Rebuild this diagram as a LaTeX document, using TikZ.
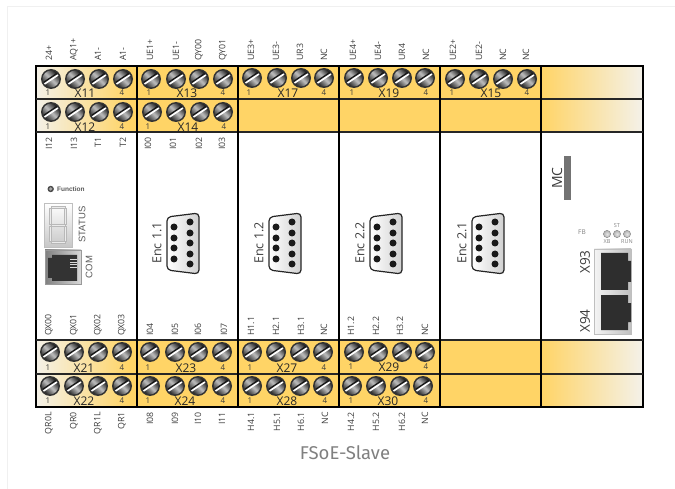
\documentclass[tikz,border=0pt]{standalone}
\usepackage{fontspec}
\setmainfont{Open Sans}
\newfontfamily\arialfont{Liberation Sans}
\newfontfamily\titlefont{Fira Sans}
\usepackage{xcolor}
\usepackage{tikz}
\definecolor{termyellow}{HTML}{FFD466}
\definecolor{termpale}{HTML}{F4F1E8}
\definecolor{textgrey}{HTML}{3C3C3C}
\tikzset{
    pinlabel/.style={rotate=90, inner sep=0pt, text=textgrey, font=\fontsize{8.8}{9}\selectfont},
    pinnum/.style={inner sep=0pt, text=textgrey, font=\fontsize{8}{9}\selectfont},
    blocklabel/.style={inner sep=0pt, text=black!85, font=\fontsize{12}{13}\selectfont},
    sidelabel/.style={rotate=90, inner sep=0pt, text=textgrey, font=\fontsize{12.5}{13}\selectfont},
    hole/.style={fill=black!90},
    led/.style={draw=black!45, line width=.5pt, inner color=black!10, outer color=black!30},
    segment/.style={draw=black!28, fill=black!8, line width=.5pt},
    screw/.pic={
        \fill[black!80] (0,0) circle (10);
        \shade[left color=black!90, right color=black!85, middle color=black!25, shading angle=-45] (0,0) circle (8.4);
        \draw[black!90, line width=1.4pt] (-7,3.2) -- (6,-5.6);
        \draw[white, line width=1.6pt] (-6.5,5) -- (7,-4);
    }
}
\begin{document}
\begin{tikzpicture}[x=1pt, y=-1pt]
    \useasboundingbox (0,0) rectangle (675,489);
    % page edge
    \draw[black!6, line width=.7pt] (7,489) -- (7,6) -- (675,6);
    % terminal rows
    \fill[termyellow] (136,66) rectangle (541,132);
    \fill[termyellow] (136,340) rectangle (541,407);
    \foreach \ya/\yb in {66/132, 340/407} {
        \shade[left color=termpale, right color=termyellow] (36,\ya) rectangle (130,\yb);
        \fill[termyellow] (130,\ya) rectangle (137,\yb);
        \shade[left color=termyellow, right color=termpale] (541,\ya) rectangle (642,\yb);
    }
    % sub-D connectors
    \foreach \dx/\enc in {0/1.1, 102/1.2, 203/2.2, 305/2.1} {
        \begin{scope}[xshift=\dx pt]
            \draw[black!85, line width=1.2pt, left color=white, right color=black!18, rounded corners=4pt]
            (167,217) -- (199,213) -- (199,274) -- (167,270) -- cycle;
            \foreach \y in {227,238,248,259} \fill[hole] (174,\y) circle (3.5);
            \foreach \y in {222,233,243,254,264} \fill[hole] (190,\y) circle (3.5);
            \node[sidelabel] at (157,243) {Enc \enc};
        \end{scope}
    }
    % frame
    \draw[black, line width=1.5pt] (36,66) rectangle (643,407);
    \foreach \y in {99,132,340,374} \draw[black!85, line width=1.3pt] (36,\y) -- (643,\y);
    \foreach \x in {137,238,339,440,541} \draw[black, line width=1.5pt] (\x,66) -- (\x,407);
    % screw blocks
    \foreach \xa/\xb/\xc/\xd/\yb/\na/\nd/\lx/\ly/\lab in {
        51/75/99/123/79/48/122/85/93/X11, 151/176/199/223/79/149/223/187/93/X13,
        252/277/301/324/78/249/324/288/93/X17, 354/378/402/425/78/352/426/389/93/X19,
        455/479/503/527/79/452/527/491/93/X15,
        51/75/99/123/112/48/122/85/127/X12, 152/176/200/223/112/148/224/188/127/X14,
        50/74/98/122/352/48/122/84/368/X21, 150/175/198/222/352/148/223/186/368/X23,
        252/276/300/323/352/250/324/287/368/X27, 354/378/402/425/352/351/426/389/367/X29,
        50/74/98/122/386/48/122/84/401/X22, 150/175/198/222/386/148/223/185/401/X24,
        252/276/300/323/386/250/325/287/401/X28, 352/376/400/423/386/351/426/388/401/X30} {
        \foreach \x in {\xa,\xb,\xc,\xd} \pic at (\x,\yb) {screw};
        \node[pinnum] at (\na,\ly) {1};
        \node[pinnum] at (\nd,\ly) {4};
        \node[blocklabel] at (\lx,\ly) {\lab};
    }
    % pin names, text ends at the block
    \foreach \x/\pin in {49/24+, 74/AQ1+, 98/A1-, 123/A1-, 150/UE1+, 176/UE1-, 199/QY00, 223/QY01,
        251/UE3+, 276/UE3-, 300/UR3, 324/NC, 353/UE4+, 378/UE4-, 402/UR4, 426/NC,
        453/UE2+, 479/UE2-, 503/NC, 526/NC}
        \node[pinlabel, anchor=west] at (\x,61) {\pin};
    \foreach \x/\pin in {49/QX00, 74/QX01, 98/QX02, 122/QX03, 150/I04, 175/I05, 198/I06, 224/I07,
        251/H1.1, 276/H2.1, 301/H3.1, 324/NC, 351/H1.2, 376/H2.2, 400/H3.2, 425/NC}
        \node[pinlabel, anchor=west] at (\x,336) {\pin};
    % pin names, text starts at the block
    \foreach \x/\pin in {49/I12, 74/I13, 98/T1, 123/T2, 148/I00, 173/I01, 199/I02, 222/I03}
        \node[pinlabel, anchor=east] at (\x,137) {\pin};
    \foreach \x/\pin in {49/QR0L, 74/QR0, 98/QR1L, 122/QR1, 150/I08, 175/I09, 198/I10, 222/I11,
        251/H4.1, 277/H5.1, 301/H6.1, 325/NC, 351/H4.2, 376/H5.2, 402/H6.2, 425/NC}
        \node[pinlabel, anchor=east] at (\x,412) {\pin};
    % function led
    \fill[black!70] (50.7,189) circle (3.2);
    \fill[black!35] (50.7,189) circle (1.8);
    \node[inner sep=0pt, anchor=west, text=black!65, font=\arialfont\bfseries\fontsize{6.5}{7}\selectfont] at (57,189.5) {Function};
    % status display
    \shade[draw=black!25, line width=.5pt, top color=white, bottom color=black!22] (44,203) rectangle (72,247);
    \foreach \xa/\ya/\xb/\yb in {51/206/65/208, 51/224/65/226, 51/241/65/243,
        49.5/208/51.5/224, 64.5/208/66.5/224, 49.5/226/51.5/241, 64.5/226/66.5/241}
        \filldraw[segment] (\xa,\ya) rectangle (\xb,\yb);
    \node[rotate=90, inner sep=0pt, text=black!65, font=\arialfont\fontsize{9.5}{10}\selectfont] at (82,224.5) {STATUS};
    % com socket
    \shade[draw=black!40, line width=.5pt, left color=black!50, right color=black!15] (45,250) rectangle (81,284);
    \fill[black!80] (48,258) -- (52,258) -- (52,255) -- (77,255) -- (77,281) -- (52,281) -- (52,278) -- (48,278) -- cycle;
    \foreach \y in {259.5,262,264.5,267} \draw[black!15, line width=.6pt] (70,\y) -- (77,\y);
    \node[rotate=90, inner sep=0pt, text=black!65, font=\arialfont\fontsize{9.5}{10}\selectfont] at (89,267) {COM};
    % fieldbus side
    \fill[black!55] (564,156) rectangle (571,200);
    \node[sidelabel, font=\fontsize{14}{15}\selectfont] at (557,178) {MC};
    \node[inner sep=0pt, text=black!50, font=\fontsize{6.5}{7}\selectfont] at (582,232) {FB};
    \node[inner sep=0pt, text=black!50, font=\fontsize{5.5}{6}\selectfont] at (617,226) {ST};
    \node[inner sep=0pt, text=black!50, font=\fontsize{5.5}{6}\selectfont] at (607,242) {XB};
    \node[inner sep=0pt, text=black!50, font=\fontsize{5.5}{6}\selectfont] at (627,242) {RUN};
    \foreach \x in {607,617,627} \shade[led] (\x,234) circle (3.6);
    \shade[draw=black!25, line width=.5pt, left color=black!4, right color=black!25] (594,249) rectangle (631,334);
    \foreach \ya/\yb in {253/290, 295/330} {
        \fill[black!82] (601,\ya) -- (628,\ya) -- (628,\ya+8) -- (631,\ya+8) -- (631,\yb-8) -- (628,\yb-8) -- (628,\yb) -- (601,\yb) -- cycle;
    }
    \node[sidelabel, font=\fontsize{13.5}{14}\selectfont] at (585,262) {X93};
    \node[sidelabel, font=\fontsize{13.5}{14}\selectfont] at (585,321) {X94};
    % title
    \node[inner sep=0pt, text=black!50, font=\titlefont\fontsize{18.5}{19}\selectfont] at (345,453) {FSoE-Slave};
\end{tikzpicture}
\end{document}
